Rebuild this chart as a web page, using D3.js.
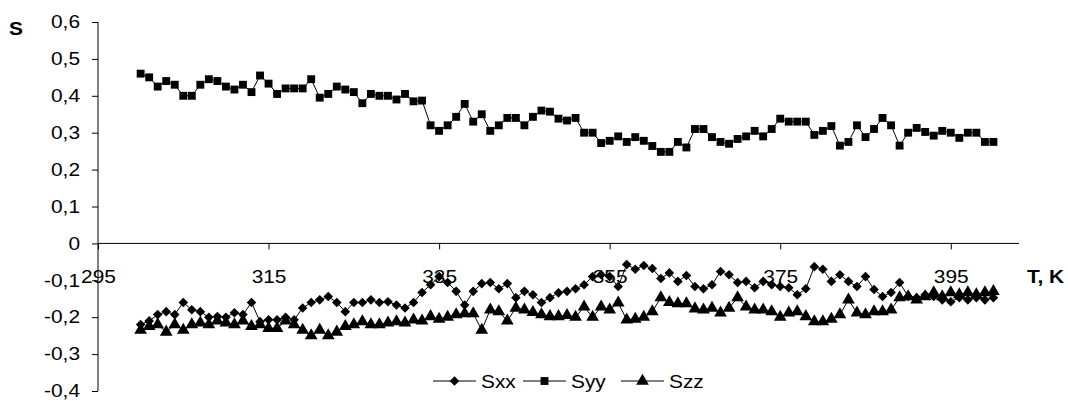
<!DOCTYPE html>
<html>
<head>
<meta charset="utf-8">
<script src="https://cdn.jsdelivr.net/npm/d3@7"></script>
<style>
  body { margin: 0; background: #fff; }
  svg { display: block; font-family: "Liberation Sans", Arial, sans-serif; }
</style>
</head>
<body>
<svg id="chart" width="1068" height="401"></svg>
<script>
// temperature, K (one point per kelvin)
const temps = d3.range(300, 401)

const sxx = [
  -0.22, -0.21, -0.193, -0.185, -0.193, -0.16, -0.18, -0.185, -0.2, -0.198,
  -0.2, -0.188, -0.193, -0.16, -0.212, -0.207, -0.207, -0.2, -0.207, -0.175,
  -0.16, -0.153, -0.144, -0.16, -0.185, -0.16, -0.16, -0.153, -0.16, -0.158,
  -0.167, -0.175, -0.16, -0.133, -0.112, -0.09, -0.106, -0.13, -0.167, -0.13,
  -0.109, -0.106, -0.123, -0.109, -0.147, -0.13, -0.139, -0.16, -0.147, -0.134,
  -0.13, -0.123, -0.112, -0.09, -0.085, -0.09, -0.117, -0.057, -0.07, -0.06,
  -0.068, -0.095, -0.08, -0.103, -0.087, -0.117, -0.123, -0.112, -0.076, -0.085,
  -0.106, -0.103, -0.12, -0.103, -0.112, -0.117, -0.12, -0.139, -0.123, -0.063,
  -0.07, -0.103, -0.085, -0.103, -0.117, -0.09, -0.125, -0.144, -0.133, -0.106,
  -0.144, -0.147, -0.139, -0.144, -0.153, -0.158, -0.147, -0.153, -0.147, -0.153,
  -0.147
]

const syy = [
  0.46, 0.45, 0.425, 0.44, 0.43, 0.40, 0.40, 0.43, 0.445, 0.44,
  0.425, 0.417, 0.43, 0.41, 0.455, 0.433, 0.405, 0.42, 0.42, 0.42,
  0.445, 0.395, 0.405, 0.425, 0.417, 0.41, 0.38, 0.405, 0.40, 0.40,
  0.39, 0.405, 0.385, 0.387, 0.32, 0.305, 0.32, 0.343, 0.378, 0.33,
  0.35, 0.305, 0.32, 0.34, 0.34, 0.32, 0.343, 0.36, 0.357, 0.338,
  0.333, 0.34, 0.30, 0.30, 0.272, 0.278, 0.29, 0.275, 0.288, 0.278,
  0.264, 0.248, 0.248, 0.275, 0.26, 0.31, 0.31, 0.288, 0.275, 0.27,
  0.283, 0.29, 0.305, 0.29, 0.31, 0.338, 0.33, 0.33, 0.33, 0.294,
  0.305, 0.318, 0.265, 0.275, 0.32, 0.288, 0.31, 0.34, 0.32, 0.265,
  0.30, 0.313, 0.302, 0.292, 0.305, 0.30, 0.286, 0.30, 0.30, 0.275,
  0.275
]

const szz = [
  -0.235, -0.225, -0.22, -0.24, -0.22, -0.235, -0.22, -0.215, -0.22, -0.21,
  -0.215, -0.22, -0.21, -0.225, -0.22, -0.23, -0.23, -0.21, -0.22, -0.235,
  -0.25, -0.235, -0.25, -0.24, -0.225, -0.22, -0.212, -0.22, -0.22, -0.215,
  -0.212, -0.215, -0.207, -0.21, -0.198, -0.205, -0.2, -0.193, -0.19, -0.19,
  -0.235, -0.18, -0.185, -0.21, -0.175, -0.18, -0.187, -0.193, -0.198, -0.198,
  -0.195, -0.2, -0.172, -0.2, -0.172, -0.18, -0.161, -0.207, -0.205, -0.2,
  -0.185, -0.147, -0.16, -0.163, -0.163, -0.177, -0.18, -0.175, -0.188, -0.175,
  -0.147, -0.172, -0.18, -0.18, -0.185, -0.2, -0.188, -0.185, -0.198, -0.212,
  -0.212, -0.205, -0.193, -0.153, -0.188, -0.193, -0.185, -0.185, -0.18, -0.147,
  -0.144, -0.153, -0.144, -0.133, -0.144, -0.133, -0.139, -0.133, -0.139, -0.133,
  -0.13
]

const yTicks = [-0.4, -0.3, -0.2, -0.1, 0, 0.1, 0.2, 0.3, 0.4, 0.5, 0.6]
const xTicks = [295, 315, 335, 355, 375, 395]

const series = [
  { name: 'Sxx', values: sxx, symbol: d3.symbolSquare, size: 46, rot: 45 },
  { name: 'Syy', values: syy, symbol: d3.symbolSquare, size: 62, rot: 0 },
  { name: 'Szz', values: szz, symbol: d3.symbolTriangle, size: 70, rot: 0 }
]

const svg = d3.select('#chart')
const sx = 1.16 // text in the picture is a bit wider than plain Arial

const x = d3.scaleLinear().domain([295, 403]).range([98, 1019])
const y = d3.scaleLinear().domain([-0.4, 0.6]).range([391, 22])

const fmt = d => d === 0 ? '0' : d3.format('.1f')(d).replace('.', ',').replace('\u2212', '-')

function widen (sel) {
  sel.each(function () {
    const t = d3.select(this)
    const tx = +(t.attr('x') || 0)
    t.attr('x', tx / sx).attr('transform', `scale(${sx},1)`)
  })
}

// y axis
const yAxis = svg.append('g')
  .attr('transform', `translate(${x(295)},0)`)
  .call(d3.axisLeft(y).tickValues(yTicks).tickSize(6).tickPadding(12).tickFormat(fmt))
yAxis.select('.domain').attr('d', `M0,${y(0.6)}V${y(-0.4)}`).attr('stroke', '#000')
yAxis.selectAll('.tick line').attr('stroke', '#000')
yAxis.selectAll('text').attr('font-size', 18).attr('fill', '#000')
  .attr('font-family', 'Liberation Sans, Arial, sans-serif').call(widen)

// x axis sits at zero
const xAxis = svg.append('g')
  .attr('transform', `translate(0,${y(0)})`)
  .call(d3.axisBottom(x).tickValues(xTicks).tickSize(6).tickPadding(21).tickFormat(d3.format('d')))
xAxis.select('.domain').attr('d', `M${x(295)},0H${x(403)}`).attr('stroke', '#000')
xAxis.selectAll('.tick line').attr('stroke', '#000')
xAxis.selectAll('text').attr('font-size', 18).attr('fill', '#000')
  .attr('font-family', 'Liberation Sans, Arial, sans-serif').call(widen)

// axis titles
svg.append('text').attr('x', 9).attr('y', 35)
  .attr('font-size', 18).attr('font-weight', 'bold').text('S').call(widen)
svg.append('text').attr('x', 1027).attr('y', 283)
  .attr('font-size', 18).attr('font-weight', 'bold').text('T, K').call(widen)

// lines and markers
const line = d3.line()
  .x((d, i) => x(temps[i]))
  .y(d => y(d))

series.forEach(s => {
  svg.append('path')
    .datum(s.values)
    .attr('fill', 'none')
    .attr('stroke', '#000')
    .attr('stroke-width', 1)
    .attr('d', line)

  svg.append('g').selectAll('path')
    .data(s.values)
    .enter().append('path')
      .attr('transform', (d, i) => `translate(${x(temps[i])},${y(d)}) rotate(${s.rot})`)
      .attr('d', d3.symbol().type(s.symbol).size(s.size))
      .attr('fill', '#000')
})

// legend
const legendX = [433, 523, 621]
const legend = svg.append('g').attr('transform', 'translate(0,381)')
series.forEach((s, i) => {
  const g = legend.append('g').attr('transform', `translate(${legendX[i]},0)`)
  g.append('line').attr('x1', 0).attr('x2', 43).attr('y1', 0).attr('y2', 0).attr('stroke', '#000')
  g.append('path').attr('transform', `translate(21.5,0) rotate(${s.rot})`)
    .attr('d', d3.symbol().type(s.symbol).size(s.size))
    .attr('fill', '#000')
  g.append('text').attr('x', 48).attr('y', 7).attr('font-size', 18).text(s.name).call(widen)
})
</script>
</body>
</html>
